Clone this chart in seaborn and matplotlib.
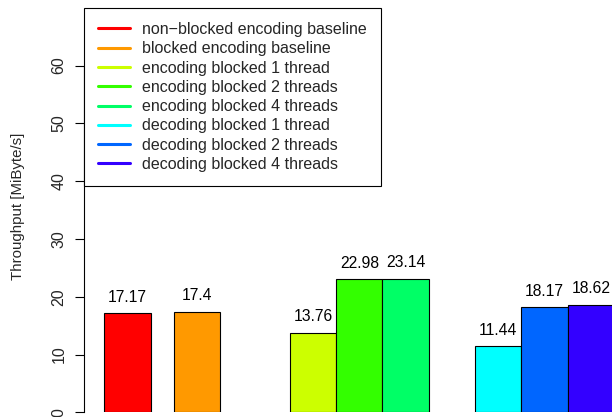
import numpy as np
import pandas as pd
import matplotlib
matplotlib.use("Agg")
import matplotlib.pyplot as plt
from matplotlib.lines import Line2D
import seaborn as sns

# ---- data ----
series = [
    "non\u2212blocked encoding baseline",
    "blocked encoding baseline",
    "encoding blocked 1 thread",
    "encoding blocked 2 threads",
    "encoding blocked 4 threads",
    "decoding blocked 1 thread",
    "decoding blocked 2 threads",
    "decoding blocked 4 threads",
]
throughput = [17.17, 17.4, 13.76, 22.98, 23.14, 11.44, 18.17, 18.62]
y_ticks = [0, 10, 20, 30, 40, 50, 60]
y_label = "Throughput [MiByte/s]"

# ---- style / layout ----
colors = ["#FF0000", "#FF9900", "#CCFF00", "#33FF00", "#00FF66",
          "#00FFFF", "#0066FF", "#3300FF"]
space = [0.44, 0.5, 1.5, 0.0, 0.0, 1.0, 0.0, 0.0]  # R-barplot style gaps (bar-width units)
bar_w = 1.0
left_edges = np.cumsum(np.array(space) + bar_w) - bar_w
centers = np.round(left_edges + bar_w / 2, 6)

sns.set_style("white")
plt.rcParams["font.family"] = ["Liberation Sans", "DejaVu Sans"]

df = pd.DataFrame({"pos": centers, "series": series, "value": throughput})

W, H = 612, 417
fig = plt.figure(figsize=(W / 100, H / 100), dpi=100)
ax_left, ax_top, ax_bottom = 84, 8.3, 412.3
ax = fig.add_axes([ax_left / W, (H - ax_bottom) / H, (W - ax_left) / W, (ax_bottom - ax_top) / H])

sns.barplot(data=df, x="pos", y="value", hue="series", hue_order=series,
            palette=colors, native_scale=True, dodge=False, width=bar_w,
            edgecolor="black", linewidth=0.8, legend=False, ax=ax,
            saturation=1, errorbar=None)

ax.set_xlim(0, (W - ax_left) / 46.34)
ax.set_ylim(0, 69.9)

for x, v in zip(centers, throughput):
    ax.annotate(f"{v:g}", (x, v), xytext=(0, 6), textcoords="offset points",
                ha="center", va="bottom", fontsize=11.3, color="black")

# axes styling
for s in ["top", "right", "bottom"]:
    ax.spines[s].set_visible(False)
ax.spines["left"].set_bounds(0, 60)
ax.spines["left"].set_color("black")
ax.spines["left"].set_linewidth(0.8)
ax.set_xticks([])
ax.set_xlabel("")
ax.set_yticks(y_ticks)
ax.set_yticklabels([str(t) for t in y_ticks], rotation=90, va="center", fontsize=11.5)
ax.tick_params(axis="y", left=True, length=6.5, width=0.8, color="black", pad=6)
ax.set_ylabel(y_label, fontsize=10.8)
ax.yaxis.label.set_va("center")
ax.yaxis.set_label_coords((17.5 - ax_left) / (W - ax_left), (ax_bottom - 206) / (ax_bottom - ax_top))

handles = [Line2D([0], [0], color=c, lw=2.2) for c in colors]
leg = ax.legend(handles, series, loc="upper left", bbox_to_anchor=(0, 1),
                borderaxespad=0, fontsize=11.5, frameon=True, fancybox=False,
                handlelength=2.0, handletextpad=0.8, borderpad=0.85,
                labelspacing=0.27)
leg.get_frame().set_edgecolor("black")
leg.get_frame().set_linewidth(0.8)
leg.get_frame().set_alpha(1)

fig.savefig("out.png", dpi=100)
